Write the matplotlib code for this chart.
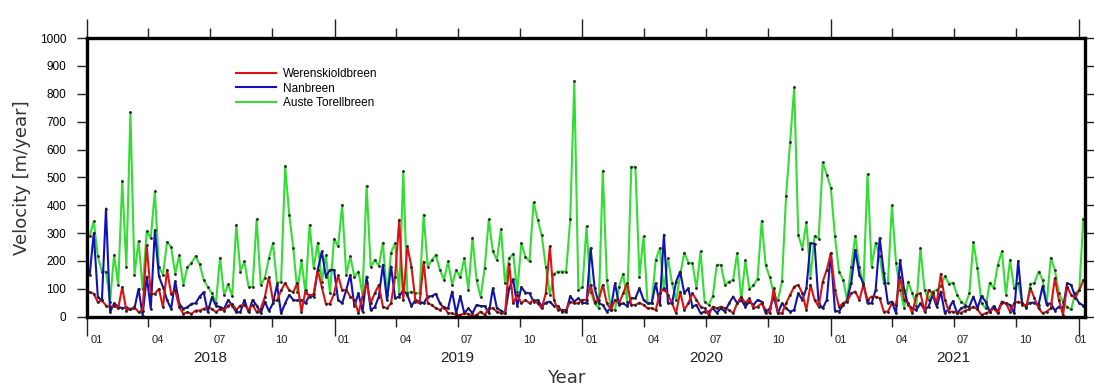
import pandas as pd
import matplotlib
matplotlib.use("Agg")
import matplotlib.pyplot as plt
import matplotlib.dates as mdates
import matplotlib.transforms as mtransforms

# -- DATA ---------------------------------------------------------------------
# Sentinel-1 pairs, 6-day repeat, first acquisition date
FIRST_DATE = "2018-01-05"

werenskioldbreen = [
    88, 82, 52, 58, 40, 34, 40, 30, 106, 22, 28, 34, 16, 22, 256, 82, 82, 100, 34, 168,
    82, 94, 34, 10, 16, 10, 22, 22, 28, 34, 28, 16, 28, 22, 40, 46, 24, 40, 42, 24,
    43, 16, 28, 70, 142, 58, 58, 94, 121, 94, 88, 121, 16, 94, 70, 82, 168, 106, 46, 46,
    82, 148, 94, 96, 72, 60, 12, 72, 120, 48, 84, 114, 36, 30, 48, 144, 348, 60, 252, 180,
    54, 48, 197, 48, 42, 30, 24, 36, 12, 12, 6, 6, 12, 10, 2, 6, 18, 6, 30, 30,
    18, 12, 12, 190, 48, 78, 48, 60, 48, 60, 48, 30, 84, 252, 60, 24, 24, 24, 54, 48,
    48, 60, 60, 114, 54, 60, 114, 48, 24, 60, 48, 84, 120, 42, 42, 50, 42, 30, 30, 24,
    84, 102, 78, 48, 12, 90, 24, 48, 84, 60, 36, 30, 6, 36, 30, 36, 30, 24, 12, 48,
    72, 48, 66, 30, 36, 48, 24, 12, 102, 12, 12, 48, 78, 108, 114, 84, 24, 114, 60, 36,
    126, 168, 228, 96, 36, 48, 54, 84, 90, 60, 114, 60, 72, 72, 66, 18, 18, 48, 42, 144,
    60, 48, 12, 78, 84, 18, 96, 84, 48, 154, 60, 18, 18, 14, 14, 22, 26, 36, 26, 6,
    12, 18, 30, 12, 50, 48, 18, 48, 54, 48, 36, 102, 66, 30, 12, 18, 30, 138, 60, 6,
    108, 78, 66, 96, 130,
]

nanbreen = [
    150, 300, 70, 58, 388, 16, 48, 36, 30, 34, 26, 30, 100, 4, 144, 28, 310, 145, 106, 60,
    28, 127, 46, 28, 34, 46, 48, 72, 88, 16, 70, 40, 34, 28, 60, 40, 16, 16, 60, 16,
    60, 40, 12, 54, 20, 48, 114, 12, 48, 78, 60, 58, 60, 48, 78, 72, 168, 234, 144, 168,
    168, 60, 48, 96, 150, 38, 84, 18, 144, 24, 34, 72, 186, 60, 180, 66, 72, 96, 78, 38,
    60, 54, 48, 72, 74, 82, 48, 30, 30, 90, 12, 74, 12, 30, 12, 42, 38, 38, 12, 102,
    30, 22, 12, 102, 134, 38, 106, 86, 84, 54, 60, 38, 50, 54, 38, 38, 18, 18, 74, 54,
    66, 50, 48, 246, 102, 48, 42, 18, 30, 120, 42, 48, 38, 66, 66, 102, 60, 48, 48, 120,
    42, 294, 48, 48, 126, 162, 84, 102, 36, 42, 12, 18, 18, 30, 14, 30, 18, 48, 72, 48,
    60, 36, 54, 42, 60, 54, 12, 30, 72, 12, 48, 30, 18, 24, 84, 60, 102, 264, 262, 48,
    30, 60, 228, 22, 18, 42, 60, 122, 240, 150, 120, 48, 48, 96, 282, 156, 48, 54, 12, 204,
    96, 42, 30, 24, 48, 24, 36, 78, 36, 90, 12, 30, 56, 12, 30, 36, 36, 72, 30, 74,
    54, 18, 38, 18, 54, 48, 42, 12, 200, 42, 42, 50, 50, 42, 110, 42, 48, 22, 36, 30,
    120, 114, 72, 48, 40,
]

auste_torellbreen = [
    290, 342, 216, 162, 162, 54, 222, 114, 488, 178, 734, 150, 272, 100, 306, 282, 450, 180, 150, 268,
    250, 154, 220, 114, 178, 192, 218, 188, 132, 106, 84, 48, 212, 78, 116, 74, 330, 162, 198, 108,
    106, 350, 114, 138, 210, 264, 120, 126, 540, 366, 246, 90, 202, 84, 330, 174, 266, 126, 222, 84,
    280, 252, 402, 150, 216, 144, 162, 78, 470, 178, 204, 182, 266, 78, 230, 264, 82, 522, 84, 90,
    84, 84, 366, 180, 202, 222, 168, 132, 198, 114, 168, 142, 210, 96, 284, 132, 70, 174, 350, 234,
    204, 314, 120, 210, 226, 90, 264, 214, 198, 410, 348, 292, 180, 78, 154, 162, 162, 162, 350, 846,
    96, 106, 324, 90, 48, 30, 524, 132, 24, 24, 108, 154, 54, 538, 538, 144, 288, 48, 48, 204,
    246, 96, 210, 120, 60, 150, 230, 194, 192, 102, 234, 54, 42, 74, 186, 186, 114, 126, 132, 228,
    60, 202, 100, 112, 136, 343, 184, 142, 82, 58, 128, 432, 628, 824, 294, 244, 340, 140, 290, 280,
    554, 510, 462, 288, 162, 132, 60, 180, 290, 180, 108, 512, 180, 266, 216, 120, 120, 400, 192, 96,
    30, 126, 84, 40, 246, 96, 60, 90, 96, 110, 146, 118, 122, 78, 54, 42, 84, 268, 174, 48,
    30, 122, 102, 186, 234, 78, 204, 102, 120, 48, 30, 118, 120, 162, 132, 48, 212, 168, 84, 54,
    34, 26, 84, 96, 350,
]

SERIES = [
    ("Werenskioldbreen", werenskioldbreen, "#dd1111"),
    ("Nanbreen", nanbreen, "#1111bb"),
    ("Auste Torellbreen", auste_torellbreen, "#33dd33"),
]

YEARS = [2018, 2019, 2020, 2021]
MONTH_LABELS = ["01", "04", "07", "10"]
# -----------------------------------------------------------------------------

dates = pd.date_range(FIRST_DATE, periods=len(auste_torellbreen), freq="6D")

fig = plt.figure(figsize=(10.94, 3.89), dpi=100)
ax = fig.add_axes([0.0795, 0.186, 0.912, 0.716])

# green first so the two small glaciers sit on top
for name, vals, col in reversed(SERIES):
    ax.plot(dates, vals, color=col, lw=1.5, label=name, zorder=2,
            marker="o", ms=2.0, mfc="#222222", mec="#222222", mew=0)

ax.set_ylim(0, 1000)
ax.set_yticks(range(0, 1001, 100))
ax.set_xlim(pd.Timestamp("2018-01-05"), pd.Timestamp("2022-01-10"))

year_starts = [pd.Timestamp(f"{y}-01-01") for y in YEARS + [2022]]
month_starts = [pd.Timestamp(f"{y}-{m:02d}-01") for y in YEARS for m in (4, 7, 10)]
ax.set_xticks(year_starts)
ax.set_xticks(month_starts, minor=True)
ax.tick_params(axis="x", which="both", labelbottom=False, top=True, direction="out",
               width=1.0, color="#222222")
ax.tick_params(axis="x", which="major", length=14)
ax.tick_params(axis="x", which="minor", length=7)
ax.tick_params(axis="y", which="major", direction="out", length=7, width=1.0, pad=8,
               right=True, labelsize=8.5, color="#222222")
for lab in ax.get_yticklabels():
    lab.set_family("Liberation Sans")

for sp in ax.spines.values():
    sp.set_linewidth(2.4)
    sp.set_color("black")

trans = mtransforms.blended_transform_factory(ax.transData, ax.transAxes)
for y in YEARS:
    for m, lab in zip((1, 4, 7, 10), MONTH_LABELS):
        x = mdates.date2num(pd.Timestamp(f"{y}-{m:02d}-15"))
        ax.text(x, -0.083, lab, transform=trans, ha="center", va="center",
                fontsize=8, family="Liberation Sans", color="#222222")
    xc = mdates.date2num(pd.Timestamp(f"{y}-07-01"))
    ax.text(xc, -0.148, str(y), transform=trans, ha="center", va="center",
            fontsize=11, family="Liberation Sans", color="#222222")
ax.text(mdates.date2num(pd.Timestamp("2022-01-04")), -0.083, "01", transform=trans,
        ha="center", va="center", fontsize=8, family="Liberation Sans", color="#222222")

ax.text(0.48, -0.22, "Year", transform=ax.transAxes, ha="center", va="center",
        fontsize=13, family="DejaVu Sans", color="#333333")
ax.set_ylabel("Velocity [m/year]", fontsize=13, family="DejaVu Sans", color="#333333",
              labelpad=6)

handles, labels = ax.get_legend_handles_labels()
order = [2, 1, 0]
leg = ax.legend([plt.Line2D([], [], color=h.get_color(), lw=1.5) for h in
                 [handles[i] for i in order]],
                [labels[i] for i in order],
                loc="upper left", bbox_to_anchor=(0.139, 0.93), frameon=False,
                handlelength=3.4, handletextpad=0.55, labelspacing=0.2,
                prop={"family": "Liberation Sans", "size": 8.5})

fig.savefig("out.png", dpi=100)
